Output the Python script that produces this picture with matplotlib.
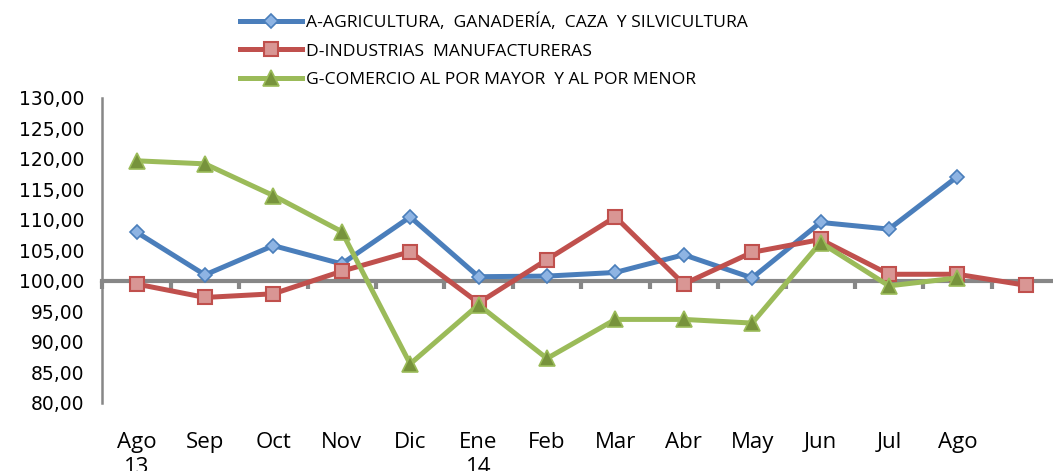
import numpy as np
import matplotlib.pyplot as plt

months = ['Ago\n13', 'Sep', 'Oct', 'Nov', 'Dic', 'Ene\n14', 'Feb', 'Mar',
          'Abr', 'May', 'Jun', 'Jul', 'Ago', '']
agricultura = [108.0, 101.0, 105.8, 102.8, 110.5, 100.7, 100.8, 101.4,
               104.3, 100.5, 109.6, 108.5, 117.1, np.nan]
industrias = [99.5, 97.3, 97.9, 101.6, 104.8, 96.4, 103.5, 110.5,
              99.5, 104.7, 106.8, 101.1, 101.1, 99.3]
comercio = [119.7, 119.2, 114.0, 108.1, 86.4, 96.1, 87.3, 93.7,
            93.7, 93.1, 106.3, 99.2, 100.5, np.nan]
labels = ['A-AGRICULTURA,  GANADERÍA,  CAZA  Y SILVICULTURA',
          'D-INDUSTRIAS  MANUFACTURERAS',
          'G-COMERCIO AL POR MAYOR  Y AL POR MENOR']
yticks = np.arange(80, 131, 5)

AXIS_GRAY = '#878787'

fig = plt.figure(figsize=(10.53, 4.71), dpi=100)
ax = fig.add_axes([0.0972, 0.1444, 0.9094, 0.6476])

x = np.arange(len(months))
ax.plot(x, agricultura, color='#4A7EBB', lw=3.6, marker='D', markersize=7.5,
        markerfacecolor='#8EB4E3', markeredgecolor='#4A7EBB', markeredgewidth=1.2,
        label=labels[0], zorder=3, clip_on=False)
ax.plot(x, industrias, color='#C0504D', lw=3.6, marker='s', markersize=10.5,
        markerfacecolor='#D99694', markeredgecolor='#C0504D', markeredgewidth=1.5,
        label=labels[1], zorder=3, clip_on=False)
ax.plot(x, comercio, color='#9BBB59', lw=3.6, marker='^', markersize=11,
        markerfacecolor='#77933C', markeredgecolor='#9BBB59', markeredgewidth=1.2,
        label=labels[2], zorder=3, clip_on=False)

ax.set_xlim(-0.5, len(months) - 0.5)
ax.set_ylim(80, 130)

# horizontal axis crosses at 100
ax.spines['bottom'].set_position(('data', 100))
ax.spines['bottom'].set_color(AXIS_GRAY)
ax.spines['bottom'].set_linewidth(3)
ax.spines['left'].set_color(AXIS_GRAY)
ax.spines['left'].set_linewidth(1.8)
ax.spines['top'].set_visible(False)
ax.spines['right'].set_visible(False)

ax.set_xticks(x)
ax.set_xticklabels(months, family='Open Sans', fontsize=16, va='top',
                   linespacing=1.25)
ax.set_xticks(np.arange(-0.5, len(months), 1), minor=True)
ax.tick_params(axis='x', which='major', length=0, pad=109)
ax.tick_params(axis='x', which='minor', length=6, width=3, color=AXIS_GRAY,
               direction='out')

ax.set_yticks(yticks)
ax.set_yticklabels(['%d,00' % v for v in yticks], family='DejaVu Sans',
                   fontsize=13.5)
ax.tick_params(axis='y', length=0, pad=13)

fig.legend(loc='upper left', bbox_to_anchor=(0.228, 0.972),
           bbox_transform=fig.transFigure, frameon=False,
           prop={'family': 'Open Sans', 'size': 12.6},
           handlelength=3.55, handletextpad=0.23, labelspacing=0.72,
           borderpad=0, borderaxespad=0)

fig.savefig('out.png', dpi=100)
